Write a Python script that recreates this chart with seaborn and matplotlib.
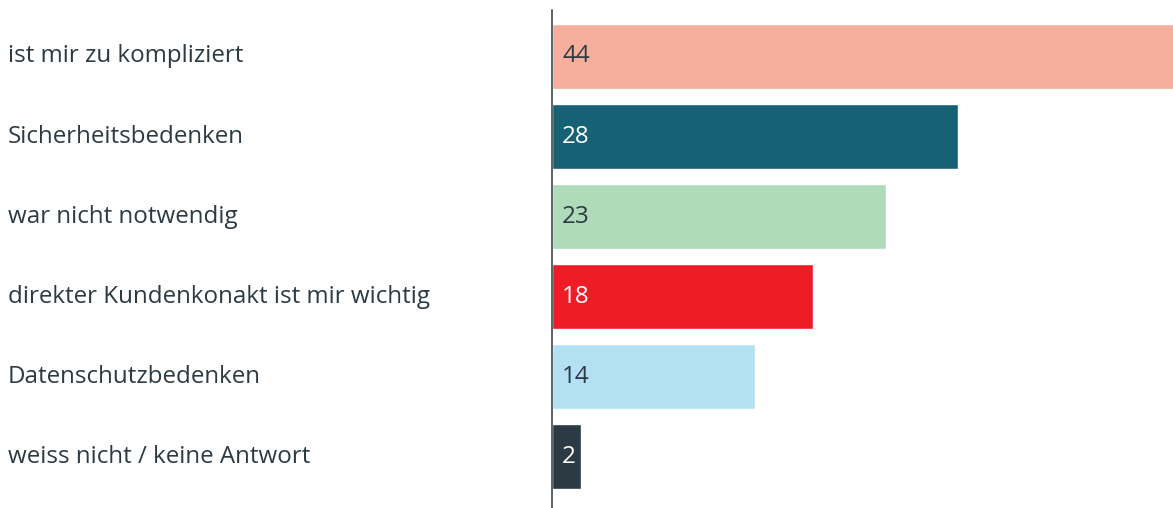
import pandas as pd
import matplotlib
matplotlib.use('Agg')
import matplotlib.pyplot as plt
import matplotlib.transforms as mtransforms
import seaborn as sns

categories = [
    "ist mir zu kompliziert",
    "Sicherheitsbedenken",
    "war nicht notwendig",
    "direkter Kundenkonakt ist mir wichtig",
    "Datenschutzbedenken",
    "weiss nicht / keine Antwort",
]
values = [44, 28, 23, 18, 14, 2]
colors = ["#f7ae9d", "#166274", "#afdbba", "#ee1c25", "#b3e1f3", "#2b3a43"]
text_colors = ["#2b3a43", "#ffffff", "#2b3a43", "#ffffff", "#2b3a43", "#ffffff"]

df = pd.DataFrame({"reason": categories, "value": values})

sns.set_theme(style="white")
plt.rcParams['font.family'] = ['Open Sans', 'DejaVu Sans']

fig = plt.figure(figsize=(11.73, 5.08), dpi=100)
ax = fig.add_axes([552 / 1173, 0, 1 - 552 / 1173, 498 / 508])

sns.barplot(data=df, y="reason", x="value", hue="reason", palette=colors,
            order=categories, hue_order=categories, width=0.8125,
            legend=False, ax=ax, orient="h", saturation=1)

ax.set_xlim(0, 42.8)
ax.set_ylim(5.64, -0.58)
ax.set_xlabel("")
ax.set_ylabel("")
ax.set_xticks([])
ax.set_yticks([])
for s in ["top", "right", "bottom"]:
    ax.spines[s].set_visible(False)
ax.spines["left"].set_color("#2b3a43")
ax.spines["left"].set_linewidth(1.1)

trans = mtransforms.blended_transform_factory(fig.transFigure, ax.transData)
for i, (cat, val) in enumerate(zip(categories, values)):
    ax.text(8 / 1173, i, cat, transform=trans, ha="left", va="center",
            fontsize=17.4, color="#2b3a43")
    ax.text(0.7, i, str(val), ha="left", va="center", fontsize=17.4,
            color=text_colors[i])

fig.savefig("out.png", dpi=100)
